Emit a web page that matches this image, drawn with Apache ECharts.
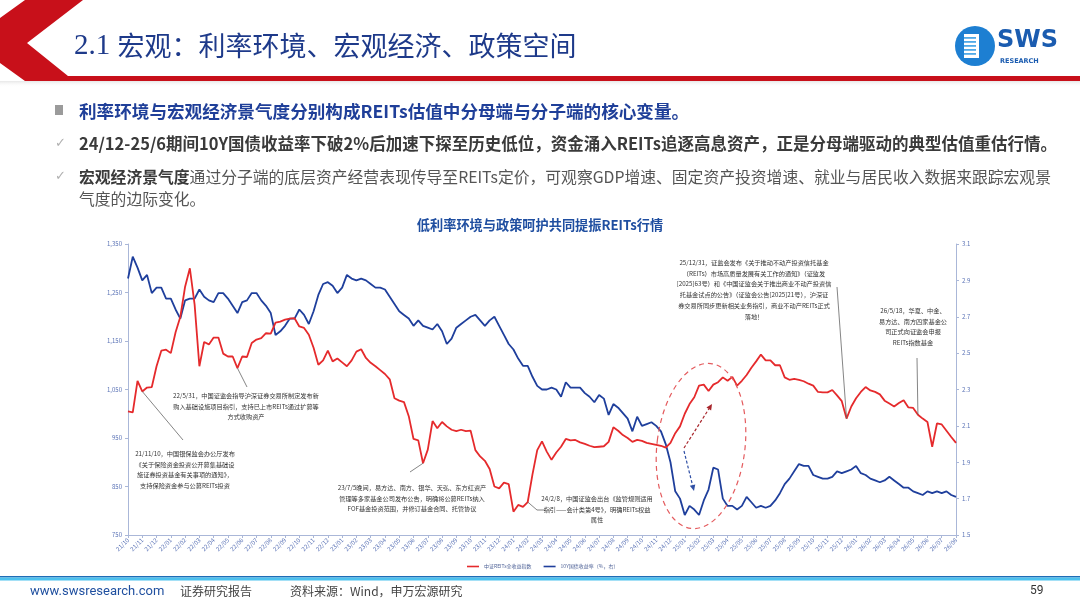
<!DOCTYPE html>
<html>
<head>
<meta charset="utf-8">
<script src="https://cdn.jsdelivr.net/npm/echarts@6.0.0/dist/echarts.min.js"></script>
<style>
  html, body { margin: 0; padding: 0; background: #fff; }
  #chart { width: 1080px; height: 608px; }
</style>
</head>
<body>
<div id="chart"></div>
<script>
// month tick labels on the x axis
var months = ['21/10','21/11','21/12',
  '22/01','22/02','22/03','22/04','22/05','22/06','22/07','22/08','22/09','22/10','22/11','22/12',
  '23/01','23/02','23/03','23/04','23/05','23/06','23/07','23/08','23/09','23/10','23/11','23/12',
  '24/01','24/02','24/03','24/04','24/05','24/06','24/07','24/08','24/09','24/10','24/11','24/12',
  '25/01','25/02','25/03','25/04','25/05','25/06','25/07','25/08','25/09','25/10','25/11','25/12',
  '26/01','26/02','26/03','26/04','26/05','26/06','26/07','26/08'];

// 中证REITs全收益指数, read three times a month (left axis)
var reitsIndex = [
  1005,1003,1068,1046,1054,1055,1098,1130,1132,1125,
  1168,1200,1262,1300,1225,1098,1148,1143,1157,1157,
  1124,1118,1118,1094,1118,1117,1146,1153,1156,1166,
  1165,1188,1190,1194,1196,1197,1180,1177,1163,1136,
  1101,1110,1130,1108,1114,1106,1098,1110,1128,1133,
  1115,1105,1098,1090,1082,1071,1032,1027,1024,995,
  948,945,898,926,985,970,983,974,967,964,
  967,964,965,925,912,903,886,850,846,858,
  855,798,812,808,818,875,925,943,922,905,
  920,932,948,945,946,941,938,934,931,932,
  933,942,972,965,956,950,942,946,944,940,
  938,936,934,930,940,960,974,1000,1020,1034,
  1058,1060,1047,1060,1065,1075,1068,1076,1058,1068,
  1080,1095,1108,1122,1110,1110,1100,1100,1075,1070,
  1072,1070,1067,1062,1058,1045,1044,1044,1049,1038,
  1026,990,1015,1032,1045,1055,1048,1045,1040,1027,
  1021,1015,1022,1028,1013,1012,998,990,983,932,
  980,978,965,952,940
];

// 10Y国债收益率 (%), same dates (right axis)
var bondYield = [
  2.91,3.03,2.97,2.90,2.93,2.83,2.86,2.86,2.80,2.80,
  2.74,2.69,2.79,2.80,2.80,2.85,2.81,2.79,2.78,2.83,
  2.83,2.80,2.76,2.72,2.78,2.79,2.83,2.83,2.79,2.76,
  2.72,2.60,2.62,2.65,2.69,2.69,2.74,2.71,2.66,2.73,
  2.82,2.88,2.89,2.87,2.83,2.86,2.93,2.91,2.90,2.91,
  2.90,2.88,2.86,2.86,2.85,2.81,2.77,2.73,2.71,2.69,
  2.65,2.68,2.65,2.64,2.63,2.66,2.62,2.55,2.58,2.64,
  2.66,2.68,2.70,2.71,2.68,2.65,2.68,2.70,2.65,2.60,
  2.55,2.52,2.47,2.43,2.43,2.37,2.32,2.30,2.30,2.31,
  2.30,2.26,2.34,2.31,2.31,2.31,2.28,2.26,2.23,2.27,
  2.25,2.16,2.22,2.20,2.17,2.14,2.07,2.15,2.10,2.11,
  2.12,2.10,2.07,2.00,1.90,1.74,1.70,1.61,1.66,1.64,
  1.61,1.69,1.75,1.87,1.86,1.70,1.66,1.66,1.64,1.66,
  1.71,1.68,1.65,1.66,1.65,1.66,1.69,1.73,1.78,1.81,
  1.85,1.89,1.88,1.88,1.83,1.82,1.81,1.81,1.82,1.85,
  1.84,1.85,1.86,1.88,1.84,1.83,1.81,1.80,1.79,1.80,
  1.82,1.80,1.78,1.76,1.76,1.74,1.73,1.72,1.74,1.73,
  1.74,1.73,1.74,1.72,1.71
];

var seriesNames = ['中证REITs全收益指数', '10Y国债收益率（%，右）'];

// policy events, and where their leader line meets the REITs line
var noteTexts = [
  '21/11/10，中国银保监会办公厅发布\n《关于保险资金投资公开募集基础设\n施证券投资基金有关事项的通知》，\n支持保险资金参与公募REITs投资',
  '22/5/31，中国证监会指导沪深证券交易所制定发布新\n购入基础设施项目指引，支持已上市REITs通过扩募等\n方式收购资产',
  '23/7/5晚间，易方达、南方、银华、天弘、东方红资产\n管理等多家基金公司发布公告，明确将公募REITs纳入\nFOF基金投资范围，并修订基金合同、托管协议',
  '24/2/8，中国证监会出台《监管规则适用\n指引——会计类第4号》，明确REITs权益\n属性',
  '25/12/31，证监会发布《关于推动不动产投资信托基金\n（REITs）市场高质量发展有关工作的通知》（证监发\n[2025]63号）和《中国证监会关于推出商业不动产投资信\n托基金试点的公告》（证监会公告[2025]21号），沪深证\n券交易所同步更新相关业务指引，商业不动产REITs正式\n落地！',
  '26/5/18，华夏、中金、\n易方达、南方四家基金公\n司正式向证监会申报\nREITs指数基金'
];
var noteIdx = [3, 23, 62, 84, 151, 166];

// categories: three slots per month, the first one carries the label
var cats = [];
months.forEach(function (m, i) {
  cats.push(m);
  if (i < months.length - 1) { cats.push(m + ' b'); cats.push(m + ' c'); }
});
function isMonth(index) { return index % 3 === 0; }

var CJK = '"Noto Sans CJK SC", "Noto Sans", sans-serif';
var axisCol = '#aab7d8';
var labCol = '#5b73b6';

var option = {
  animation: false,
  backgroundColor: '#fff',
  textStyle: { fontFamily: CJK },
  grid: { left: 128, right: 124, top: 244, bottom: 73, containLabel: false, outerBoundsMode: 'none' },
  legend: {
    left: 462, top: 559,
    icon: 'rect', itemWidth: 12, itemHeight: 1.6, itemGap: 12,
    textStyle: { fontSize: 5, color: '#4b5f95', fontFamily: CJK },
    data: seriesNames
  },
  xAxis: {
    type: 'category',
    data: cats,
    boundaryGap: false,
    axisLine: { lineStyle: { color: axisCol, width: 1 } },
    axisTick: { show: true, interval: isMonth, length: 3, lineStyle: { color: axisCol } },
    axisLabel: {
      interval: isMonth, rotate: 45, fontSize: 6, color: labCol, margin: 4,
      formatter: function (v) { return v.split(' ')[0]; }
    },
    splitLine: { show: false }
  },
  yAxis: [
    {
      type: 'value', min: 750, max: 1350, interval: 100,
      axisLine: { show: true, lineStyle: { color: axisCol } },
      axisTick: { show: true, length: 3, lineStyle: { color: axisCol } },
      splitLine: { show: false },
      axisLabel: {
        fontSize: 6, color: labCol, margin: 6,
        formatter: function (v) { return String(v).replace(/\B(?=(\d{3})+(?!\d))/g, ','); }
      }
    },
    {
      type: 'value', position: 'right', min: 1.5, max: 3.1, interval: 0.2,
      axisLine: { show: true, lineStyle: { color: axisCol } },
      axisTick: { show: true, length: 3, lineStyle: { color: axisCol } },
      splitLine: { show: false },
      axisLabel: {
        fontSize: 6, color: labCol, margin: 6,
        formatter: function (v) { return v.toFixed(1); }
      }
    }
  ],
  series: [
    {
      name: seriesNames[0], type: 'line', yAxisIndex: 0, data: reitsIndex,
      symbol: 'none', color: '#e52a2c', lineStyle: { width: 1.8, color: '#e52a2c' }, z: 3
    },
    {
      name: seriesNames[1], type: 'line', yAxisIndex: 1, data: bondYield,
      symbol: 'none', color: '#1f3f9c', lineStyle: { width: 1.8, color: '#1f3f9c' }, z: 2
    }
  ]
};

var chart = echarts.init(document.getElementById('chart'));
chart.setOption(option);

function txt(id, x, y, text, font, fill, align, extra) {
  var s = { text: text, font: font, fill: fill,
    align: align || 'left', textAlign: align || 'left',
    verticalAlign: 'middle', textVerticalAlign: 'middle' };
  if (extra) { for (var k in extra) s[k] = extra[k]; }
  return { type: 'text', id: id, x: x, y: y, z: 100, style: s };
}

function arrow(id, x1, y1, x2, y2, color) {
  var a = Math.atan2(y2 - y1, x2 - x1), h = 6, w = 2.8;
  var bx = x2 - h * Math.cos(a), by = y2 - h * Math.sin(a);
  return [
    { type: 'line', id: id + 'l', z: 90, shape: { x1: x1, y1: y1, x2: bx, y2: by },
      style: { stroke: color, lineWidth: 1.2, lineDash: [3, 2] } },
    { type: 'polygon', id: id + 'h', z: 90,
      shape: { points: [[x2, y2], [bx + w * Math.sin(a), by - w * Math.cos(a)], [bx - w * Math.sin(a), by + w * Math.cos(a)]] },
      style: { fill: color } }
  ];
}

function dataPt(i) {
  return chart.convertToPixel({ xAxisIndex: 0, yAxisIndex: 0 }, [cats[noteIdx[i]], reitsIndex[noteIdx[i]]]);
}

var g = [];
// header chevron and bar
g.push({ type: 'polygon', id: 'chev', z: 10,
  shape: { points: [[25, 0], [83, 0], [27, 43], [68, 76], [1080, 76], [1080, 81], [25, 81], [0, 63], [0, 18]] },
  style: { fill: '#c8101a' } });
g.push({ type: 'rect', id: 'shade', z: 9, shape: { x: 0, y: 81, width: 1080, height: 6 },
  style: { fill: { type: 'linear', x: 0, y: 0, x2: 0, y2: 1,
    colorStops: [{ offset: 0, color: 'rgba(160,160,160,0.25)' }, { offset: 1, color: 'rgba(255,255,255,0)' }] } } });
g.push({ type: 'text', id: 'title', x: 74, y: 46, z: 100, style: {
  text: '{d|2.1 }{c|宏观：利率环境、宏观经济、政策空间}',
  align: 'left', verticalAlign: 'middle', textAlign: 'left', textVerticalAlign: 'middle',
  rich: {
    d: { fontFamily: '"Liberation Serif", serif', fontSize: 29, fill: '#1e3a8a', color: '#1e3a8a' },
    c: { fontFamily: CJK, fontSize: 27, fill: '#1e3a8a', color: '#1e3a8a' }
  } } });

// logo
g.push({ type: 'circle', id: 'logoC', z: 20, shape: { cx: 975, cy: 46, r: 20 }, style: { fill: '#1d7fd2' } });
g.push({ type: 'rect', id: 'logoR', z: 21, shape: { x: 964, y: 34, width: 15, height: 24 }, style: { fill: '#fff' } });
[37, 41, 45, 49, 53].forEach(function (y, i) {
  g.push({ type: 'rect', id: 'logoS' + i, z: 22, shape: { x: 964, y: y, width: 12, height: 1.8 }, style: { fill: '#4fa9e8' } });
});
g.push(txt('logoT', 997, 41, 'SWS', 'bold 24px "DejaVu Sans", sans-serif', '#1b5cb0'));
g.push(txt('logoT2', 1000, 61, 'RESEARCH', 'bold 6.5px "DejaVu Sans", sans-serif', '#1b5cb0'));

// bullet texts
g.push({ type: 'rect', id: 'b1', z: 20, shape: { x: 55, y: 105, width: 8, height: 10 }, style: { fill: '#9b9b9b' } });
g.push(txt('t1', 79, 111, '利率环境与宏观经济景气度分别构成REITs估值中分母端与分子端的核心变量。', 'bold 17.6px ' + CJK, '#1f3f99'));
g.push(txt('c2', 55, 144, '✓', '13px "DejaVu Sans"', '#b0b0b0'));
g.push(txt('t2', 79, 144, '24/12-25/6期间10Y国债收益率下破2%后加速下探至历史低位，资金涌入REITs追逐高息资产，正是分母端驱动的典型估值重估行情。', 'bold 16.5px ' + CJK, '#3a3a3a'));
g.push(txt('c3', 55, 177, '✓', '13px "DejaVu Sans"', '#b0b0b0'));
g.push({ type: 'text', id: 't3', x: 79, y: 177, z: 100, style: {
  text: '{b|宏观经济景气度}{n|通过分子端的底层资产经营表现传导至REITs定价，可观察GDP增速、固定资产投资增速、就业与居民收入数据来跟踪宏观景}',
  align: 'left', verticalAlign: 'middle', textAlign: 'left', textVerticalAlign: 'middle',
  rich: {
    b: { fontFamily: CJK, fontSize: 15.8, fontWeight: 'bold', fill: '#3a3a3a', color: '#3a3a3a' },
    n: { fontFamily: CJK, fontSize: 15.8, fill: '#555', color: '#555' }
  } } });
g.push(txt('t3b', 79, 199, '气度的边际变化。', '15.8px ' + CJK, '#555'));
g.push(txt('ct', 540, 225, '低利率环境与政策呵护共同提振REITs行情', 'bold 13.2px ' + CJK, '#1f4ea0', 'center'));

// annotation blocks
var noteBox = [[185, 448], [246, 390], [412, 482], [597, 493], [754, 257], [913, 305]];
var noteFrom = [[183, 440], [247, 387], [410, 472], [545, 510], [837, 287], [917, 358]];
noteTexts.forEach(function (t, i) {
  g.push({ type: 'text', id: 'n' + i, x: noteBox[i][0], y: noteBox[i][1], z: 100, style: {
    text: t, font: '6.2px ' + CJK, fill: '#333', lineHeight: 10.8,
    align: 'center', textAlign: 'center', verticalAlign: 'top', textVerticalAlign: 'top' } });
  var p = dataPt(i);
  var pts = [noteFrom[i]];
  if (i === 3) pts.push([537, 510]);
  pts.push(p);
  g.push({ type: 'polyline', id: 'nl' + i, z: 95, shape: { points: pts },
    style: { stroke: '#666', lineWidth: 0.8, fill: null } });
});

// dashed ellipse and arrows around the 24/12-25/06 episode
g.push({ type: 'ellipse', id: 'ell', x: 701, y: 446, rotation: -0.12, z: 90,
  shape: { cx: 0, cy: 0, rx: 44, ry: 83 },
  style: { fill: 'rgba(0,0,0,0)', stroke: '#e45b5e', lineWidth: 1.2, lineDash: [5, 4] } });
g = g.concat(arrow('ar', 684, 448, 712, 404, '#a8262c'));
g = g.concat(arrow('ab', 684, 451, 694, 491, '#2f4fa5'));

// footer
g.push({ type: 'rect', id: 'f1', z: 10, shape: { x: 0, y: 576, width: 1080, height: 1.5 }, style: { fill: '#1f6db6' } });
g.push({ type: 'rect', id: 'f2', z: 10, shape: { x: 0, y: 577.5, width: 1080, height: 3 }, style: { fill: '#4cc1ee' } });
g.push(txt('f3', 30, 592, 'www.swsresearch.com', '13px Roboto, sans-serif', '#1f4f9f'));
g.push(txt('f4', 180, 591, '证券研究报告', '12px ' + CJK, '#444'));
g.push(txt('f5', 290, 591, '资料来源：Wind，申万宏源研究', '12px ' + CJK, '#444'));
g.push(txt('f6', 1030, 591, '59', '12px Roboto, sans-serif', '#333'));

chart.setOption({ graphic: g });
</script>
</body>
</html>
